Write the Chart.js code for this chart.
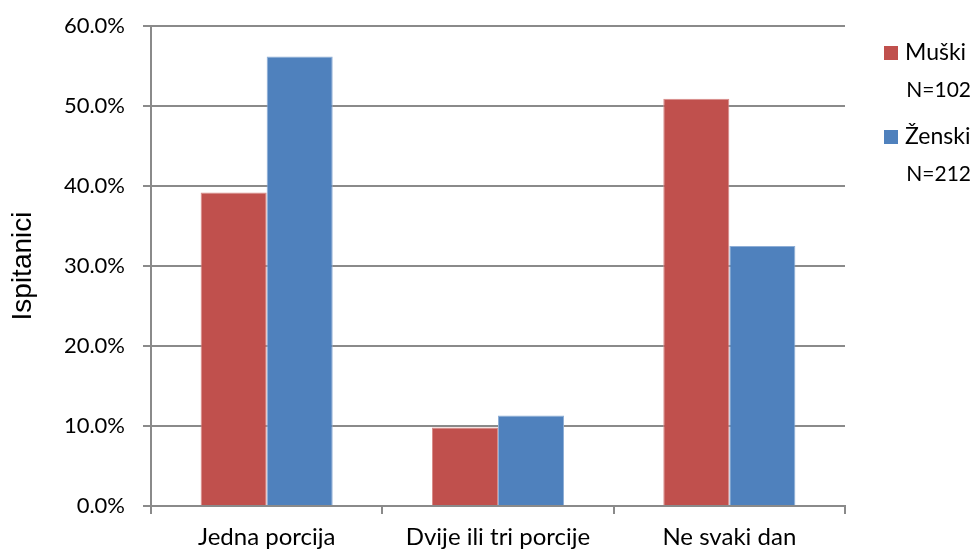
<!DOCTYPE html>
<html lang="hr">
<head>
<meta charset="UTF-8" />
<title>Ispitanici</title>
<script src="https://cdn.jsdelivr.net/npm/chart.js"></script>
<style>
  html, body { margin: 0; padding: 0; background: #fff; }
</style>
</head>
<body>
<canvas id="chart" width="977" height="554"></canvas>
<script>
  const categories = ['Jedna porcija', 'Dvije ili tri porcije', 'Ne svaki dan'];
  const muski = [39.2, 9.8, 50.9];
  const zenski = [56.2, 11.3, 32.5];
  const seriesNames = ['Muški', 'Ženski'];
  const seriesN = ['N=102', 'N=212'];
  const yMin = 0, yMax = 60, yStep = 10;

  const gridGray = '#8a8a8a';

  // legend on the right, name + N under it
  const sideLegend = {
    id: 'sideLegend',
    afterDraw(chart) {
      const ctx = chart.ctx;
      ctx.save();
      chart.data.datasets.forEach((ds, i) => {
        const y = 53 + i * 84;
        ctx.fillStyle = ds.backgroundColor;
        ctx.fillRect(884, y - 7, 14, 14);
        ctx.fillStyle = '#000';
        ctx.textBaseline = 'middle';
        ctx.textAlign = 'left';
        ctx.font = '23px Lato';
        ctx.fillText(ds.label, 905, y);
        ctx.textAlign = 'right';
        ctx.font = '21px Lato';
        ctx.fillText(seriesN[i], 971, y + 37);
      });
      ctx.restore();
    }
  };

  const ctx = document.getElementById('chart').getContext('2d');
  const chart = new Chart(ctx, {
    type: 'bar',
    data: {
      labels: categories,
      datasets: [{
        label: seriesNames[0],
        data: muski,
        backgroundColor: '#C0504D',
        borderColor: '#d98b89',
        borderWidth: 1,
      }, {
        label: seriesNames[1],
        data: zenski,
        backgroundColor: '#4F81BD',
        borderColor: '#8eaed6',
        borderWidth: 1,
      }],
    },
    options: {
      responsive: false,
      animation: false,
      layout: { padding: { top: 26, right: 132, left: 0, bottom: 0 } },
      plugins: {
        legend: { display: false },
        tooltip: { enabled: false },
      },
      datasets: {
        bar: { categoryPercentage: 0.571, barPercentage: 1.0 }
      },
      scales: {
        x: {
          offset: true,
          grid: {
            offset: true,
            drawOnChartArea: false,
            drawTicks: true,
            tickLength: 8,
            color: gridGray,
            lineWidth: 2,
          },
          border: { color: gridGray, width: 2 },
          ticks: {
            color: '#000',
            font: { family: 'Lato', size: 24 },
            padding: 9,
          },
          afterFit(scale) { scale.height = 48; },
        },
        y: {
          min: yMin,
          max: yMax,
          grid: {
            color: gridGray,
            lineWidth: 2,
            tickLength: 8,
          },
          border: { color: gridGray, width: 2 },
          ticks: {
            stepSize: yStep,
            color: '#000',
            font: { family: 'Lato', size: 22 },
            padding: 18,
            callback: v => v.toFixed(1) + '%',
          },
          title: {
            display: true,
            text: 'Ispitanici',
            color: '#000',
            font: { family: 'Liberation Sans', size: 28 },
            padding: { top: 6, bottom: 0 },
          },
          afterFit(scale) {
            scale.width = 151;
            scale.paddingTop = 0;
            scale.paddingBottom = 0;
          },
        },
      },
    },
    plugins: [sideLegend],
  });
</script>
</body>
</html>
